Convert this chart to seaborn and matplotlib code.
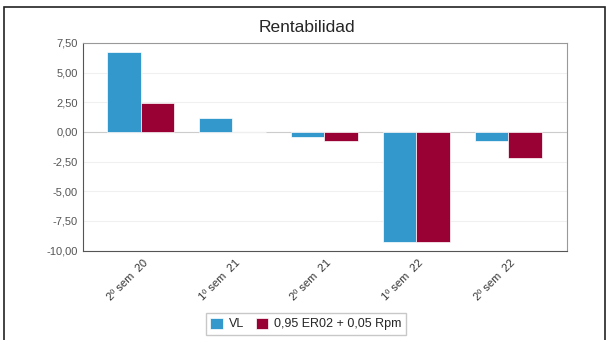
import numpy as np
import pandas as pd
import matplotlib
from matplotlib import pyplot as plt
import seaborn as sns

periods = ["2º sem  20", "1º sem  21", "2º sem  21", "1º sem  22", "2º sem  22"]
vl = [6.70, 1.20, -0.45, -9.25, -0.80]
er02 = [2.40, -0.02, -0.80, -9.30, -2.20]
series_names = ["VL", "0,95 ER02 + 0,05 Rpm"]
yticks = [-10, -7.5, -5, -2.5, 0, 2.5, 5, 7.5]

df = pd.DataFrame({
    "periodo": periods * 2,
    "valor": vl + er02,
    "serie": [series_names[0]] * len(periods) + [series_names[1]] * len(periods),
})

sns.set_style("white")
plt.rcParams["font.family"] = ["Liberation Sans", "DejaVu Sans"]

fig = plt.figure(figsize=(6.07, 3.40), dpi=100)
ax = fig.add_axes([0.137, 0.263, 0.797, 0.611])

sns.barplot(data=df, x="periodo", y="valor", hue="serie",
            palette=["#3399cc", "#990033"], saturation=1, width=0.73, gap=0,
            edgecolor="white", linewidth=0.5, ax=ax, zorder=3)

ax.set_xlim(-0.625, 4.64)
ax.set_ylim(-10, 7.5)
ax.set_yticks(yticks)
ax.set_yticklabels([("%.2f" % v).replace(".", ",") for v in yticks], fontsize=8, color="#555555")
ax.yaxis.grid(True, color="#f0f0f0", linewidth=0.8, zorder=0)
ax.axhline(0, color="#cccccc", linewidth=0.8, zorder=2)
ax.set_xlabel("")
ax.set_ylabel("")
ax.tick_params(axis="x", rotation=45, labelsize=8, colors="#333333", length=0, pad=5)
ax.tick_params(axis="y", length=0, pad=4)
for lbl in ax.get_xticklabels():
    lbl.set_ha("right")
    lbl.set_rotation_mode("anchor")
    lbl.set_transform(lbl.get_transform() + matplotlib.transforms.ScaledTranslation(2 / 100, 0, fig.dpi_scale_trans))
for s in ax.spines.values():
    s.set_color("#999999")
    s.set_linewidth(0.8)
ax.spines["left"].set_color("#555555")
ax.spines["bottom"].set_color("#555555")

fig.text(307 / 607, 1 - 27 / 340, "Rentabilidad", fontsize=12.5, ha="center", va="center")

ax.legend(loc="center", bbox_to_anchor=(306 / 607, 16 / 340), bbox_transform=fig.transFigure,
          ncol=2, fontsize=9, frameon=True, edgecolor="#bbbbbb", fancybox=False,
          handlelength=1.0, handleheight=1.0, handletextpad=0.5, columnspacing=0.9,
          borderpad=0.35)

border = matplotlib.patches.Rectangle((4 / 607, -0.05), 601 / 607, 1.05 - 7 / 340,
                                      transform=fig.transFigure, fill=False,
                                      edgecolor="#222222", linewidth=1.2)
fig.patches.append(border)

fig.savefig("out.png", dpi=100)
